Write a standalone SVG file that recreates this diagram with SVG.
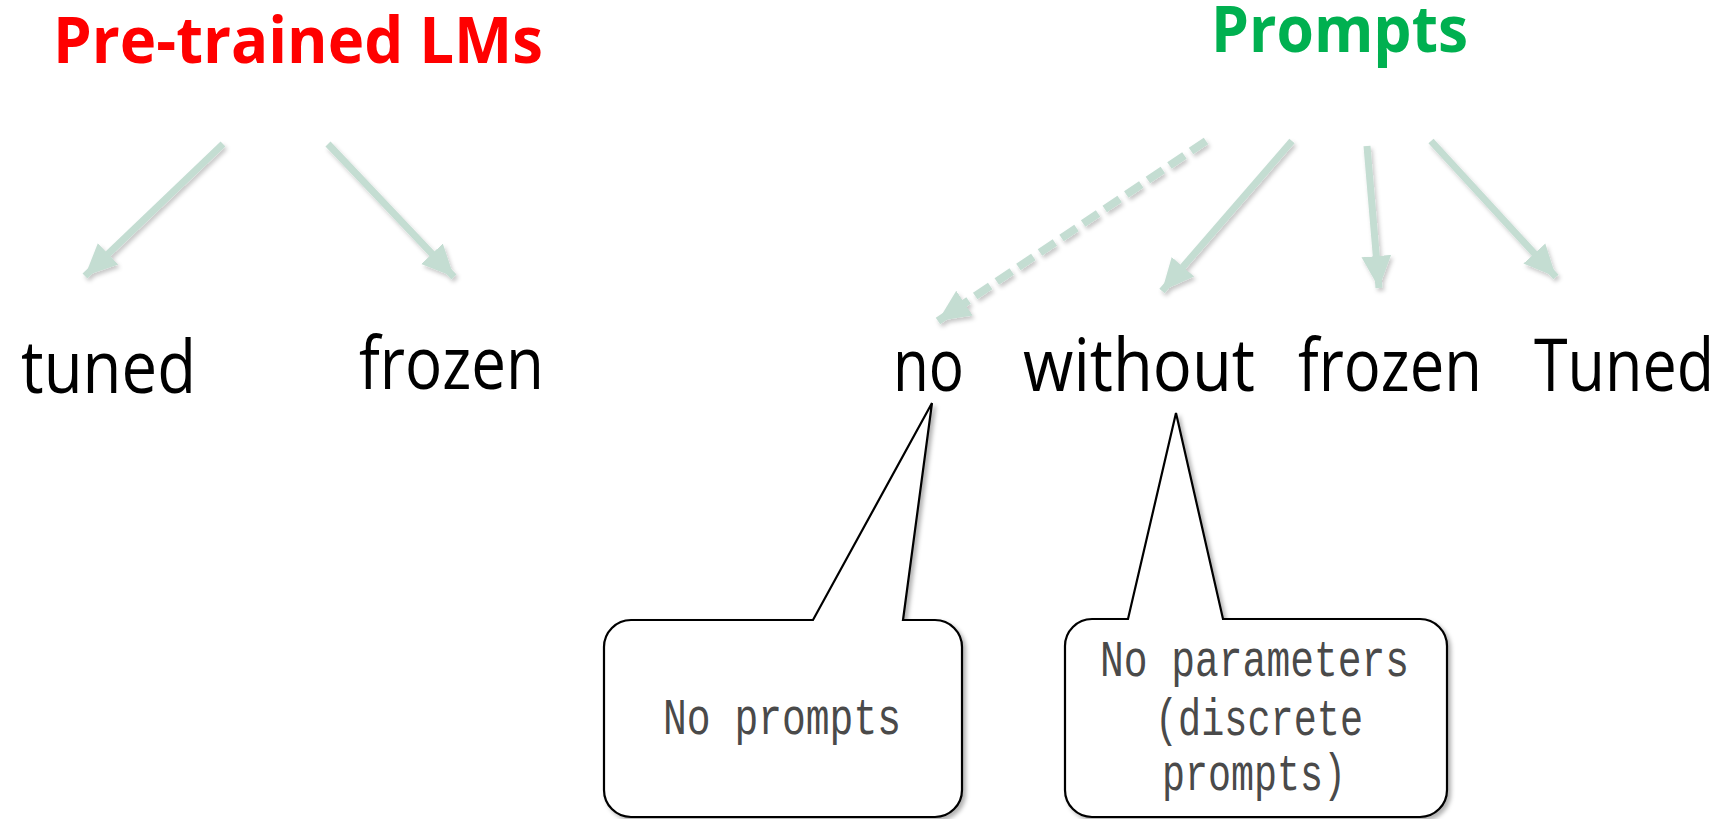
<svg xmlns="http://www.w3.org/2000/svg" width="1732" height="819" viewBox="0 0 1732 819">
  <style>
    .title { font-family: "Open Sans", "Liberation Sans", sans-serif; font-weight: 700; font-size: 64px; }
    .label { font-family: "Open Sans", "Liberation Sans", sans-serif; font-size: 74px; fill: #000000; }
    .note { font-family: "Liberation Mono", "DejaVu Sans Mono", monospace; font-size: 52px; fill: #4a4a4a; }
    .bubble { fill: #ffffff; stroke: #000000; stroke-width: 2.2; stroke-linejoin: miter; }
    .link { stroke: #c4ddd2; stroke-width: 7; fill: none; marker-end: url(#head); }
    .dashed { stroke-width: 8; stroke-dasharray: 18 8; }
  </style>
  <defs>
    <marker id="head" markerUnits="userSpaceOnUse" markerWidth="32" markerHeight="32" viewBox="0 0 28 26" refX="28" refY="13" orient="auto">
      <path d="M0,0 L28,13 L0,26 Z" fill="#c4ddd2"/>
    </marker>
    <filter id="soft" x="-20%" y="-20%" width="140%" height="140%">
      <feDropShadow dx="2" dy="3" stdDeviation="2" flood-color="#000000" flood-opacity="0.22"/>
    </filter>
    <filter id="bubbleShadow" x="-10%" y="-10%" width="120%" height="120%">
      <feDropShadow dx="3" dy="3" stdDeviation="2" flood-color="#000000" flood-opacity="0.3"/>
    </filter>
  </defs>

  <rect width="1732" height="819" fill="#ffffff"/>

  <!-- headings -->
  <g id="pretrained-lms">
    <text class="title" x="53" y="63" fill="#ff0000" textLength="490" lengthAdjust="spacingAndGlyphs">Pre-trained LMs</text>
  </g>
  <g id="prompts">
    <text class="title" x="1211" y="52" fill="#00b050" textLength="257" lengthAdjust="spacingAndGlyphs">Prompts</text>
  </g>

  <!-- leaf labels -->
  <g id="lm-tuned">
    <text class="label" x="21" y="393" textLength="175" lengthAdjust="spacingAndGlyphs">tuned</text>
  </g>
  <g id="lm-frozen">
    <text class="label" x="359" y="389" textLength="185" lengthAdjust="spacingAndGlyphs">frozen</text>
  </g>
  <g id="prompt-no">
    <text class="label" x="893" y="391" textLength="71" lengthAdjust="spacingAndGlyphs">no</text>
  </g>
  <g id="prompt-without">
    <text class="label" x="1023" y="391" textLength="232" lengthAdjust="spacingAndGlyphs">without</text>
  </g>
  <g id="prompt-frozen">
    <text class="label" x="1298" y="391" textLength="184" lengthAdjust="spacingAndGlyphs">frozen</text>
  </g>
  <g id="prompt-tuned">
    <text class="label" x="1534" y="391" textLength="180" lengthAdjust="spacingAndGlyphs">Tuned</text>
  </g>

  <!-- connectors -->
  <g id="connectors" filter="url(#soft)">
    <line class="link" x1="223" y1="144" x2="85" y2="276"/>
    <line class="link" x1="328" y1="144" x2="454" y2="277"/>
    <line class="link dashed" x1="1206" y1="141" x2="938" y2="321"/>
    <line class="link" x1="1292" y1="141" x2="1162" y2="291"/>
    <line class="link" x1="1367" y1="146" x2="1379" y2="288"/>
    <line class="link" x1="1431" y1="141" x2="1556" y2="277"/>
  </g>

  <!-- callouts -->
  <g id="callout-no-prompts">
    <path class="bubble" filter="url(#bubbleShadow)" d="M631,620 H813 L932,403 L903,620 H935 A27,27 0 0 1 962,647 V790 A27,27 0 0 1 935,817 H631 A27,27 0 0 1 604,790 V647 A27,27 0 0 1 631,620 Z"/>
    <text class="note" x="663" y="734" textLength="238" lengthAdjust="spacingAndGlyphs">No prompts</text>
  </g>
  <g id="callout-no-parameters">
    <path class="bubble" filter="url(#bubbleShadow)" d="M1092,619 H1128 L1176,413 L1223,619 H1420 A27,27 0 0 1 1447,646 V790 A27,27 0 0 1 1420,817 H1092 A27,27 0 0 1 1065,790 V646 A27,27 0 0 1 1092,619 Z"/>
    <text class="note" x="1100" y="676" textLength="309" lengthAdjust="spacingAndGlyphs">No parameters</text>
    <text class="note" x="1155" y="735" textLength="208" lengthAdjust="spacingAndGlyphs">(discrete</text>
    <text class="note" x="1162" y="790" textLength="184" lengthAdjust="spacingAndGlyphs">prompts)</text>
  </g>
</svg>
